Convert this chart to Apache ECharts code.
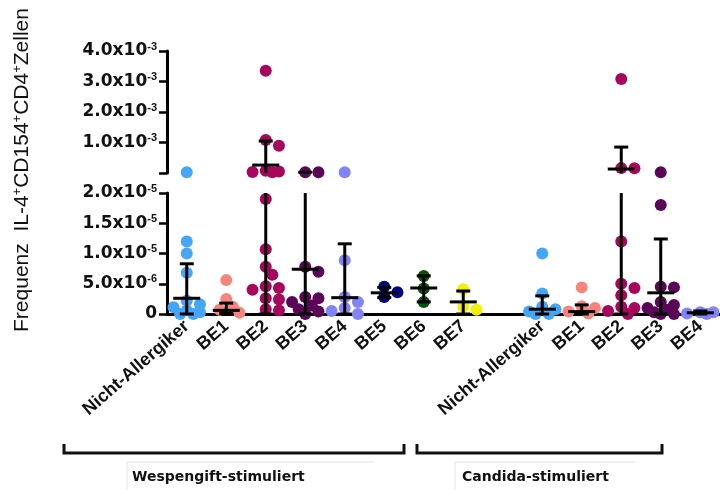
<!DOCTYPE html>
<html>
<head>
<meta charset="utf-8">
<script src="https://cdn.jsdelivr.net/npm/echarts@6/dist/echarts.min.js"></script>
<style>
  html, body { margin: 0; background: #fff; }
  #chart { width: 720px; height: 490px; }
</style>
</head>
<body>
<div id="chart"></div>
<script>
// categories (the empty slot is the gap between the two stimulations)
const categories = ['Nicht-Allergiker', 'BE1', 'BE2', 'BE3', 'BE4', 'BE5', 'BE6', 'BE7', '',
  'Nicht-Allergiker', 'BE1', 'BE2', 'BE3', 'BE4'];
const groupColors = ['#45a6f7', '#f7857e', '#a6065b', '#5a0757', '#8282fb', '#03047e', '#0b520b', '#f4ee00', '',
  '#45a6f7', '#f7857e', '#a6065b', '#5a0757', '#8282fb'];

// single values, Wespengift-stimuliert
const wNA = [2.5e-5, 1.2e-5, 1.0e-5, 6.8e-6, 2.2e-6, 1.6e-6, 1.1e-6, 6e-7, 3e-7, 0, 0];
const wBE1 = [5.6e-6, 2.5e-6, 1.2e-6, 7e-7, 2e-7];
const wBE2 = [3.35e-3, 1.08e-3, 8.9e-4, 7e-5, 5e-5, 3e-5, 2.5e-5,
  1.9e-5, 1.07e-5, 7.8e-6, 6.5e-6, 4.6e-6, 4.3e-6, 4.0e-6, 2.6e-6, 2.4e-6, 8e-7, 6e-7];
const wBE3 = [2.6e-5, 2.4e-5, 7.8e-6, 7.0e-6, 2.8e-6, 2.6e-6, 2.0e-6, 1.4e-6, 8e-7, 4e-7, 0];
const wBE4 = [2.5e-5, 8.9e-6, 2.8e-6, 2.0e-6, 1.0e-6, 5e-7, 0];
const wBE5 = [4.5e-6, 3.6e-6, 2.8e-6];
const wBE6 = [6.3e-6, 4.2e-6, 2.0e-6];
const wBE7 = [4.1e-6, 1.2e-6, 7e-7];
// single values, Candida-stimuliert
const cNA = [1.0e-5, 3.4e-6, 1.2e-6, 8e-7, 4e-7, 0, 0];
const cBE1 = [4.4e-6, 1.3e-6, 1.0e-6, 4e-7, 1e-7];
const cBE2 = [3.08e-3, 1.6e-4, 1.55e-4, 1.2e-5, 5.0e-6, 4.3e-6, 3.1e-6, 1.2e-6, 1.0e-6, 5e-7, 0];
const cBE3 = [2.5e-5, 1.8e-5, 4.5e-6, 4.4e-6, 2.0e-6, 1.5e-6, 1.0e-6, 7e-7, 3e-7, 0, 0];
const cBE4 = [3e-7, 3e-7, 1e-7, 0];

const groupPoints = [wNA, wBE1, wBE2, wBE3, wBE4, wBE5, wBE6, wBE7, [], cNA, cBE1, cBE2, cBE3, cBE4];

// median with error range, per category
const medians = [2.6e-6, 6e-7, 2.6e-4, 7.4e-6, 2.7e-6, 3.5e-6, 4.3e-6, 2.0e-6, null, 8e-7, 4e-7, 1.3e-4, 3.5e-6, 2e-7];
const lows = [0, 1e-7, 0, 0, 0, 2.7e-6, 2.0e-6, 0, null, 0, 0, 0, 0, 0];
const highs = [8.3e-6, 1.8e-6, 1.05e-3, 2.5e-5, 1.16e-5, 4.4e-6, 6.3e-6, 3.8e-6, null, 3.0e-6, 1.5e-6, 8.5e-4, 1.24e-5, 5e-7];

// tick labels [mantissa, exponent]
const upperTicks = [['', ''], ['1.0x10', '-3'], ['2.0x10', '-3'], ['3.0x10', '-3'], ['4.0x10', '-3']];
const lowerTicks = [['0', ''], ['5.0x10', '-6'], ['1.0x10', '-5'], ['1.5x10', '-5'], ['2.0x10', '-5']];

const BREAK = 2e-5;
const DOT = 12;
const CAP = 7;
const MED = 13.5;

const chart = echarts.init(document.getElementById('chart'));

function tickFormatter(ticks) {
  return (v, i) => {
    const t = ticks[i] || ['', ''];
    if (!t[0]) return '';
    return t[1] ? '{m|' + t[0] + '}{e|' + t[1] + '}' : '{m|' + t[0] + '}';
  };
}

const labelRich = {
  m: { fontFamily: 'DejaVu Sans', fontWeight: 'bold', fontSize: 17, color: '#111', lineHeight: 20 },
  e: { fontFamily: 'Liberation Sans', fontWeight: 'bold', fontSize: 11, color: '#111', verticalAlign: 'top', lineHeight: 12 }
};

// compact beeswarm in pixels: a few side slots, overlap allowed when crowded
function swarm(ys, cx) {
  const step = DOT * 0.55;
  const offsets = [0, step, -step, 2 * step, -2 * step];
  const placed = [];
  ys.forEach(y => {
    let best = null, bestGap = -1;
    for (const off of offsets) {
      const x = cx + off;
      const gap = placed.reduce((m, p) => Math.min(m, Math.hypot(p[0] - x, p[1] - y)), Infinity);
      if (gap >= DOT * 0.8) { best = x; break; }
      if (gap > bestGap) { bestGap = gap; best = x; }
    }
    placed.push([best, y]);
  });
  return placed;
}

function dotRenderer(upper) {
  return function (params, api) {
    const ci = api.value(0);
    const vals = groupPoints[ci].filter(v => (upper ? v > BREAK : v <= BREAK));
    const cx = api.coord([ci, 0])[0];
    const ys = vals.map(v => api.coord([ci, v])[1]).sort((a, b) => a - b);
    return {
      type: 'group',
      children: swarm(ys, cx).map(p => ({
        type: 'circle',
        shape: { cx: p[0], cy: p[1], r: DOT / 2 },
        style: { fill: groupColors[ci] }
      }))
    };
  };
}

function barRenderer(upper) {
  return function (params, api) {
    const ci = api.value(0), med = api.value(1), lo = api.value(2), hi = api.value(3);
    const x = api.coord([ci, 0])[0];
    const Y = v => api.coord([ci, v])[1];
    const kids = [];
    const line = (x1, y1, x2, y2) => kids.push({
      type: 'line', shape: { x1, y1, x2, y2 }, style: { stroke: '#000', lineWidth: 3 }
    });
    if (upper) {
      if (hi > BREAK) {
        line(x, Y(0), x, Y(hi));
        line(x - CAP, Y(hi), x + CAP, Y(hi));
      }
      if (med > BREAK) line(x - MED, Y(med), x + MED, Y(med));
    } else {
      line(x, Y(lo), x, Y(Math.min(hi, BREAK)));
      if (hi <= BREAK) line(x - CAP, Y(hi), x + CAP, Y(hi));
      line(x - CAP, Y(lo), x + CAP, Y(lo));
      if (med <= BREAK) line(x - MED, Y(med), x + MED, Y(med));
    }
    return { type: 'group', children: kids };
  };
}

const slots = categories.map((c, i) => i).filter(i => categories[i] !== '');
const dotData = slots.map(i => [i, 0]);
const barData = slots.map(i => [i, medians[i], lows[i], highs[i]]);

const axisBlack = { color: '#000', width: 3 };

chart.setOption({
  animation: false,
  grid: [
    { left: 167, top: 51, width: 560, height: 122 },
    { left: 167, top: 193, width: 560, height: 121 }
  ],
  xAxis: [
    { type: 'category', gridIndex: 0, data: categories, show: false },
    {
      type: 'category', gridIndex: 1, data: categories,
      axisLine: { lineStyle: axisBlack },
      axisTick: { alignWithLabel: true, length: 7, lineStyle: { color: '#000', width: 2.5 },
        interval: (i, v) => v !== '' },
      axisLabel: { interval: 0, rotate: 41, margin: 10, color: '#111',
        fontFamily: 'Liberation Sans', fontWeight: 'bold', fontSize: 18 }
    }
  ],
  yAxis: [
    {
      type: 'value', gridIndex: 0, min: 0, max: 4e-3, interval: 1e-3,
      axisLine: { show: true, lineStyle: axisBlack },
      axisTick: { show: true, length: 8, lineStyle: { color: '#000', width: 2.5 } },
      splitLine: { show: false },
      axisLabel: { margin: 10, formatter: tickFormatter(upperTicks), rich: labelRich }
    },
    {
      type: 'value', gridIndex: 1, min: 0, max: 2e-5, interval: 5e-6,
      axisLine: { show: true, lineStyle: axisBlack },
      axisTick: { show: true, length: 8, lineStyle: { color: '#000', width: 2.5 } },
      splitLine: { show: false },
      axisLabel: { margin: 10, formatter: tickFormatter(lowerTicks), rich: labelRich }
    }
  ],
  series: [
    { type: 'custom', xAxisIndex: 0, yAxisIndex: 0, data: dotData, renderItem: dotRenderer(true) },
    { type: 'custom', xAxisIndex: 1, yAxisIndex: 1, data: dotData, renderItem: dotRenderer(false) },
    { type: 'custom', xAxisIndex: 0, yAxisIndex: 0, data: barData, renderItem: barRenderer(true) },
    { type: 'custom', xAxisIndex: 1, yAxisIndex: 1, data: barData, renderItem: barRenderer(false) }
  ],
  graphic: [
    {
      type: 'text', x: 22, y: 170, rotation: Math.PI / 2,
      style: {
        text: 'Frequenz  IL-4{s|+}CD154{s|+}CD4{s|+}Zellen',
        fontFamily: 'Liberation Sans', fontSize: 21, fill: '#111',
        align: 'center', verticalAlign: 'middle', lineHeight: 22,
        rich: { s: { fontFamily: 'Liberation Sans', fontSize: 13, fill: '#111', verticalAlign: 'top', lineHeight: 12 } }
      }
    },
    { type: 'polyline', shape: { points: [[64, 444], [64, 453], [404, 453], [404, 444]] },
      style: { stroke: '#111', lineWidth: 3, fill: null } },
    { type: 'polyline', shape: { points: [[417, 444], [417, 453], [662, 453], [662, 444]] },
      style: { stroke: '#111', lineWidth: 3, fill: null } },
    { type: 'polyline', shape: { points: [[127, 490], [127, 462], [374, 462]] },
      style: { stroke: '#e2e2e2', lineWidth: 1, fill: null } },
    { type: 'polyline', shape: { points: [[455, 490], [455, 462], [635, 462]] },
      style: { stroke: '#e2e2e2', lineWidth: 1, fill: null } },
    { type: 'text', x: 132, y: 477,
      style: { text: 'Wespengift-stimuliert', fontFamily: 'DejaVu Sans', fontWeight: 'bold', fontSize: 14,
        fill: '#111', verticalAlign: 'middle' } },
    { type: 'text', x: 462, y: 477,
      style: { text: 'Candida-stimuliert', fontFamily: 'DejaVu Sans', fontWeight: 'bold', fontSize: 14,
        fill: '#111', verticalAlign: 'middle' } }
  ]
});
</script>
</body>
</html>
